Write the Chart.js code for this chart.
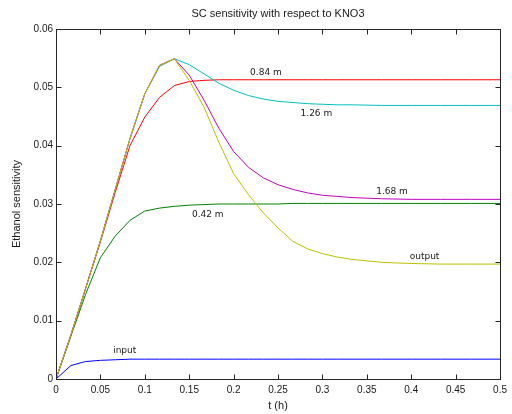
<!DOCTYPE html>
<html>
<head>
<meta charset="utf-8">
<script src="https://cdn.jsdelivr.net/npm/chart.js@4/dist/chart.umd.min.js"></script>
<style>
html,body{margin:0;padding:0;background:#fff;}
canvas{display:block;}
</style>
</head>
<body>
<canvas id="c" width="512" height="414"></canvas>
<script>
// ---- data ----
const tHours = [0, 0.0167, 0.0333, 0.05, 0.0667, 0.0833, 0.1, 0.1167, 0.1333, 0.15, 0.1667, 0.1833, 0.2, 0.2167, 0.2333, 0.25, 0.2667, 0.2833, 0.3, 0.3167, 0.3333, 0.3667, 0.4, 0.4333, 0.4667, 0.5];

const inputSeries = [0, 0.0023, 0.0030, 0.0032, 0.0033, 0.0034, 0.0034, 0.0034, 0.0034, 0.0034, 0.0034, 0.0034, 0.0034, 0.0034, 0.0034, 0.0034, 0.0034, 0.0034, 0.0034, 0.0034, 0.0034, 0.0034, 0.0034, 0.0034, 0.0034, 0.0034];
const m042 = [0, 0.0073, 0.0145, 0.0208, 0.0245, 0.0272, 0.0288, 0.0293, 0.0296, 0.0298, 0.0299, 0.0300, 0.0300, 0.0300, 0.0300, 0.0300, 0.0301, 0.0301, 0.0301, 0.0301, 0.0301, 0.0301, 0.0301, 0.0301, 0.0301, 0.0301];
const m084 = [0, 0.0075, 0.0155, 0.0235, 0.0320, 0.0400, 0.0449, 0.0483, 0.0503, 0.0510, 0.0512, 0.0513, 0.0513, 0.0513, 0.0513, 0.0513, 0.0513, 0.0513, 0.0513, 0.0513, 0.0513, 0.0513, 0.0513, 0.0513, 0.0513, 0.0513];
const m126 = [0, 0.0075, 0.0155, 0.0237, 0.0325, 0.0412, 0.0489, 0.0536, 0.0549, 0.0539, 0.0523, 0.0507, 0.0495, 0.0486, 0.0480, 0.0476, 0.0474, 0.0472, 0.0471, 0.0470, 0.0470, 0.0469, 0.0469, 0.0469, 0.0469, 0.0469];
const m168 = [0, 0.0075, 0.0155, 0.0237, 0.0325, 0.0412, 0.0489, 0.0538, 0.0549, 0.0521, 0.0478, 0.0430, 0.0390, 0.0363, 0.0345, 0.0333, 0.0325, 0.0319, 0.0315, 0.0313, 0.0311, 0.0309, 0.0308, 0.0308, 0.0308, 0.0308];
const outputSeries = [0, 0.0075, 0.0155, 0.0237, 0.0325, 0.0412, 0.0489, 0.0538, 0.0549, 0.0512, 0.0466, 0.0406, 0.0352, 0.0316, 0.0285, 0.0259, 0.0236, 0.0223, 0.0215, 0.0209, 0.0205, 0.0200, 0.0198, 0.0197, 0.0197, 0.0197];

const xTickValues = [0, 0.05, 0.1, 0.15, 0.2, 0.25, 0.3, 0.35, 0.4, 0.45, 0.5];
const xTickLabels = ["0", "0.05", "0.1", "0.15", "0.2", "0.25", "0.3", "0.35", "0.4", "0.45", "0.5"];
const yTickValues = [0, 0.01, 0.02, 0.03, 0.04, 0.05, 0.06];
const yTickLabels = ["0", "0.01", "0.02", "0.03", "0.04", "0.05", "0.06"];

const curveLabelTexts = ["input", "0.42 m", "0.84 m", "1.26 m", "1.68 m", "output"];
const curveLabelT = [0.0774, 0.1709, 0.2364, 0.2932, 0.3784, 0.415];
const curveLabelV = [0.00485, 0.0281, 0.0525, 0.0455, 0.0321, 0.0209];

const titleText = "SC sensitivity with respect to KNO3";
const xTitle = "t (h)";
const yTitle = "Ethanol sensitivity";

// ---- chart ----
function pts(vals){ return tHours.map((t,i)=>({x:t, y:vals[i]})); }

const seriesDefs = [
  {data: inputSeries, color: '#0000ff', order: 5},
  {data: m042, color: '#008000', order: 4},
  {data: m084, color: '#ff0000', order: 3},
  {data: m126, color: '#00bfbf', order: 2},
  {data: m168, color: '#bf00bf', order: 1},
  {data: outputSeries, color: '#bfbf00', order: 0}
];

const decor = {
  id: 'decor',
  afterDraw(chart){
    const ctx = chart.ctx;
    const a = chart.chartArea;
    const xs = chart.scales.x, ys = chart.scales.y;
    ctx.save();
    ctx.strokeStyle = '#262626';
    ctx.lineWidth = 1;
    const L = Math.round(a.left)+0.5, R = Math.round(a.right)+0.5, T = Math.round(a.top)+0.5, B = Math.round(a.bottom)+0.5;
    ctx.strokeRect(L, T, R-L, B-T);
    const tl = 5;
    ctx.beginPath();
    xTickValues.forEach(v=>{
      const px = Math.round(xs.getPixelForValue(v))+0.5;
      ctx.moveTo(px, B); ctx.lineTo(px, B-tl);
      ctx.moveTo(px, T); ctx.lineTo(px, T+tl);
    });
    yTickValues.forEach(v=>{
      const py = Math.round(ys.getPixelForValue(v))+0.5;
      ctx.moveTo(L, py); ctx.lineTo(L+tl, py);
      ctx.moveTo(R, py); ctx.lineTo(R-tl, py);
    });
    ctx.stroke();
    ctx.fillStyle = '#1a1a1a';
    ctx.font = '11px "Liberation Sans", Arial, sans-serif';
    ctx.textAlign = 'center';
    ctx.textBaseline = 'middle';
    ctx.fillText(titleText, (a.left+a.right)/2, 14);
    ctx.fillText(xTitle, (a.left+a.right)/2, 406);
    ctx.save();
    ctx.translate(17, (a.top+a.bottom)/2);
    ctx.rotate(-Math.PI/2);
    ctx.fillText(yTitle, 0, 0);
    ctx.restore();
    ctx.fillStyle = '#222';
    ctx.font = '9px "DejaVu Sans", sans-serif';
    curveLabelTexts.forEach((s,i)=>{
      ctx.fillText(s, xs.getPixelForValue(curveLabelT[i]), ys.getPixelForValue(curveLabelV[i]));
    });
    ctx.restore();
  }
};

new Chart(document.getElementById('c'), {
  type: 'line',
  data: {
    datasets: seriesDefs.map(s=>({
      data: pts(s.data),
      borderColor: s.color,
      backgroundColor: s.color,
      borderWidth: 1,
      pointRadius: 0,
      tension: 0,
      fill: false,
      order: s.order
    }))
  },
  options: {
    responsive: false,
    animation: false,
    events: [],
    layout: { padding: { top: 29, right: 10, left: 0, bottom: 0 } },
    plugins: { legend: { display: false }, title: { display: false }, tooltip: { enabled: false } },
    scales: {
      x: {
        type: 'linear', min: 0, max: 0.5,
        afterBuildTicks(scale){ scale.ticks = xTickValues.map(v=>({value:v})); },
        afterFit(scale){ scale.height = 35; },
        grid: { display: false, drawTicks: false },
        border: { display: false },
        ticks: {
          autoSkip: false, maxRotation: 0, padding: 5,
          color: '#1a1a1a', font: { family: '"Liberation Sans", Arial, sans-serif', size: 10 },
          callback(v, i){ return xTickLabels[i]; }
        }
      },
      y: {
        type: 'linear', min: 0, max: 0.06,
        afterBuildTicks(scale){ scale.ticks = yTickValues.map(v=>({value:v})); },
        afterFit(scale){ scale.width = 56; },
        grid: { display: false, drawTicks: false },
        border: { display: false },
        ticks: {
          autoSkip: false, padding: 3,
          color: '#1a1a1a', font: { family: '"Liberation Sans", Arial, sans-serif', size: 10 },
          callback(v, i){ return yTickLabels[i]; }
        }
      }
    }
  },
  plugins: [decor]
});
</script>
</body>
</html>
